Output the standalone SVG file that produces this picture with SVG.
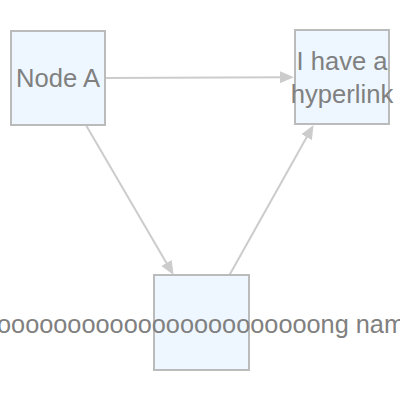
<svg xmlns="http://www.w3.org/2000/svg" width="400" height="400" viewBox="0 0 400 400">
<style>
.node rect{fill:#eef7ff;stroke:#bbbbbb;stroke-width:2}
.node text{font-family:"Liberation Sans",Arial,sans-serif;font-size:25.6px;fill:#808080;text-anchor:middle}
.edge{stroke:#cccccc;stroke-width:2;fill:none;marker-end:url(#arrow)}
</style>
<defs>
<marker id="arrow" markerUnits="userSpaceOnUse" markerWidth="14" markerHeight="12" refX="4" refY="6" orient="auto">
<path d="M0,0 L14,6 L0,12 z" fill="#cccccc"/>
</marker>
</defs>
<rect width="400" height="400" fill="#ffffff"/>
<g id="connectors">
<line class="edge" x1="105" y1="78" x2="284" y2="77.2"/>
<line class="edge" x1="86.5" y1="126" x2="168.5" y2="266.4"/>
<line class="edge" x1="229.5" y1="275" x2="308.6" y2="133.7"/>
</g>
<g id="nodeA" class="node">
<rect x="11" y="31" width="94" height="94"/>
<text x="58" y="87">Node A</text>
</g>
<g id="nodeB" class="node">
<rect x="295" y="30" width="94" height="94"/>
<text x="342" y="70">I have a</text>
<text x="342" y="103">hyperlink</text>
</g>
<g id="nodeC" class="node">
<rect x="154" y="275" width="95" height="95"/>
<text x="201" y="333" style="font-size:25.3px">Looooooooooooooooooooooong name</text>
</g>
</svg>
